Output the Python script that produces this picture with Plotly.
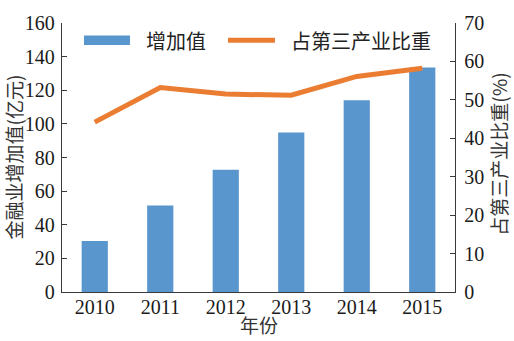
import plotly.graph_objects as go

# Financial sector value added and its share of the tertiary industry
years = ["2010", "2011", "2012", "2013", "2014", "2015"]
value_added = [30.3, 51.4, 72.7, 94.9, 114.1, 133.5]      # 亿元
tertiary_share = [44.2, 53.2, 51.5, 51.2, 56.1, 58.2]     # %

left_ticks = [0, 20, 40, 60, 80, 100, 120, 140, 160]
right_ticks = [0, 10, 20, 30, 40, 50, 60, 70]

bar_name = "增加值"
line_name = "占第三产业比重"

BLUE = "#5A96CE"
ORANGE = "#EA7D32"
AXIS = "#3a3a3a"
SERIF = "Liberation Serif, Times New Roman, serif"
CJK = "Noto Sans CJK SC, sans-serif"

fig = go.Figure()
fig.add_trace(go.Bar(x=years, y=value_added, name=bar_name,
                     marker=dict(color=BLUE, line=dict(width=0)),
                     showlegend=False))
fig.add_trace(go.Scatter(x=years, y=tertiary_share, name=line_name, yaxis="y2",
                         mode="lines", line=dict(color=ORANGE, width=5),
                         showlegend=False))

axis_common = dict(showgrid=False, zeroline=False, showline=True,
                   linecolor=AXIS, linewidth=1.3,
                   tickfont=dict(family=SERIF, size=20, color="#1a1a1a"))

fig.update_layout(
    width=514, height=341,
    margin=dict(l=62, r=59, t=12, b=49),
    paper_bgcolor="white", plot_bgcolor="white",
    bargap=0.6,
    xaxis=dict(**axis_common, ticks="", type="category", ticklabelstandoff=-3),
    yaxis=dict(**axis_common, range=[0, 160], tickvals=left_ticks,
               ticks="inside", ticklen=5, tickcolor=AXIS, tickwidth=1.3,
               ticklabelstandoff=2),
    yaxis2=dict(**axis_common, range=[0, 70], tickvals=right_ticks,
                overlaying="y", side="right",
                ticks="inside", ticklen=5, tickcolor=AXIS, tickwidth=1.3,
                ticklabelstandoff=4),
)

# Custom legend row at the top of the plot area
fig.add_shape(type="rect", xref="paper", yref="paper",
              x0=(84 - 62) / 393, x1=(130 - 62) / 393,
              y0=(292 - 35) / 280, y1=(292 - 25) / 280,
              fillcolor=BLUE, line=dict(width=0))
fig.add_shape(type="line", xref="paper", yref="paper",
              x0=(228 - 62) / 393, x1=(275 - 62) / 393,
              y0=(292 - 30) / 280, y1=(292 - 30) / 280,
              line=dict(color=ORANGE, width=5))
fig.add_annotation(text=bar_name, xref="paper", yref="paper",
                   x=(144 - 62) / 393, y=(292 - 30) / 280,
                   xanchor="left", yanchor="middle", showarrow=False,
                   font=dict(family=CJK, size=20, color="#222"))
fig.add_annotation(text=line_name, xref="paper", yref="paper",
                   x=(289 - 62) / 393, y=(292 - 30) / 280,
                   xanchor="left", yanchor="middle", showarrow=False,
                   font=dict(family=CJK, size=20, color="#222"))

# Axis titles
fig.add_annotation(text="金融业增加值(亿元)", xref="paper", yref="paper",
                   x=(13 - 62) / 393, y=(292 - 152) / 280,
                   xanchor="center", yanchor="middle", textangle=-90,
                   showarrow=False, font=dict(family=CJK, size=19, color="#333"))
fig.add_annotation(text="占第三产业比重(%)", xref="paper", yref="paper",
                   x=(499 - 62) / 393, y=(292 - 148) / 280,
                   xanchor="center", yanchor="middle", textangle=-90,
                   showarrow=False, font=dict(family=CJK, size=19, color="#333"))
fig.add_annotation(text="年份", xref="paper", yref="paper",
                   x=(259 - 62) / 393, y=(292 - 326) / 280,
                   xanchor="center", yanchor="middle",
                   showarrow=False, font=dict(family=CJK, size=19, color="#333"))

fig.write_html("out.html")
